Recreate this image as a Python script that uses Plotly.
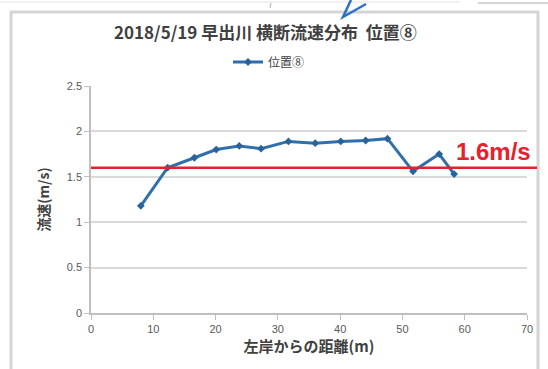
import plotly.graph_objects as go

# Cross-section flow velocity measured at position 8
distance_m = [8.0, 12.3, 16.6, 20.1, 23.8, 27.3, 31.7, 36.0, 40.1, 44.1, 47.6, 51.7, 55.9, 58.3]
velocity_ms = [1.18, 1.60, 1.71, 1.80, 1.84, 1.81, 1.89, 1.87, 1.89, 1.90, 1.92, 1.56, 1.75, 1.53]
reference_velocity = 1.6

x_ticks = [0, 10, 20, 30, 40, 50, 60, 70]
y_ticks = [0, 0.5, 1, 1.5, 2, 2.5]

title_text = "2018/5/19 早出川 横断流速分布  位置⑧"
series_name = "位置⑧"
x_title = "左岸からの距離(m)"
y_title = "流速(m/s)"
ref_label = "1.6m/s"

W, H = 548, 369
L, R, T, B = 91, 21, 86, 56
PW, PH = W - L - R, H - T - B


def px(xp):
    return (xp - L) / PW


def py(yp):
    return (H - B - yp) / PH


CJK = "Noto Sans CJK JP"
BLUE = "#2f6fab"
GRID = "#d9d9d9"

fig = go.Figure()
fig.add_trace(go.Scatter(
    x=distance_m, y=velocity_ms, mode="lines+markers", name=series_name,
    line=dict(color=BLUE, width=3),
    marker=dict(symbol="diamond", size=6, color="#2a6399"),
))

shapes = [
    # chart frame
    dict(type="rect", xref="paper", yref="paper",
         x0=px(11), x1=px(538), y0=py(385), y1=py(12),
         line=dict(color="#d4d4d4", width=3), layer="below"),
    # page edge line at top
    dict(type="line", xref="paper", yref="paper",
         x0=px(0), x1=px(460), y0=py(2), y1=py(2),
         line=dict(color="#e2e2e2", width=1)),
    dict(type="line", xref="paper", yref="paper",
         x0=px(478), x1=px(548), y0=py(3), y1=py(3),
         line=dict(color="#c8c8c8", width=1.5)),
    dict(type="line", xref="paper", yref="paper",
         x0=px(270), x1=px(271), y0=py(8), y1=py(3),
         line=dict(color="#b0b0b0", width=1)),
    # reference velocity line
    dict(type="line", xref="paper", yref="y",
         x0=px(91), x1=px(537), y0=reference_velocity, y1=reference_velocity,
         line=dict(color="#e8202a", width=2.5)),
    # blue pointer arrow
    dict(type="path", xref="paper", yref="paper",
         path=f"M {px(366)},{py(4)} L {px(343)},{py(17)} L {px(351)},{py(0)}",
         line=dict(color="#2a72c4", width=2.5)),
]

annotations = [
    dict(text=f"<b>{title_text}</b>", xref="paper", yref="paper",
         x=px(265), y=py(32), xanchor="center", yanchor="middle",
         showarrow=False, font=dict(family=CJK, size=17, color="#404040")),
    dict(text=f"<b>{ref_label}</b>", xref="paper", yref="paper",
         x=px(454), y=py(151), xanchor="left", yanchor="middle",
         showarrow=False, font=dict(family="Liberation Sans, Arial", size=24, color="#e8202a")),
]

axis_common = dict(
    showline=True, linecolor="#bfbfbf", linewidth=1.5,
    ticks="outside", ticklen=5, tickcolor="#bfbfbf",
    tickfont=dict(family="Liberation Sans, Arial", size=11, color="#595959"),
    zeroline=False,
)

fig.update_layout(
    width=W, height=H,
    margin=dict(l=L, r=R, t=T, b=B),
    paper_bgcolor="white", plot_bgcolor="white",
    showlegend=True,
    legend=dict(x=px(228), y=py(62), xanchor="left", yanchor="middle",
                orientation="h", bgcolor="rgba(0,0,0,0)", itemwidth=30,
                font=dict(family=CJK, size=12, color="#404040")),
    xaxis=dict(range=[0, 70], tickvals=x_ticks, showgrid=False,
               title=dict(text=f"<b>{x_title}</b>", standoff=6,
                          font=dict(family=CJK, size=15, color="#404040")),
               **axis_common),
    yaxis=dict(range=[0, 2.5], tickvals=y_ticks, showgrid=True,
               gridcolor=GRID, gridwidth=2,
               title=dict(text=f"<b>{y_title}</b>", standoff=14,
                          font=dict(family=CJK, size=14, color="#404040")),
               **axis_common),
    shapes=shapes,
    annotations=annotations,
)

fig.write_html("out.html")
